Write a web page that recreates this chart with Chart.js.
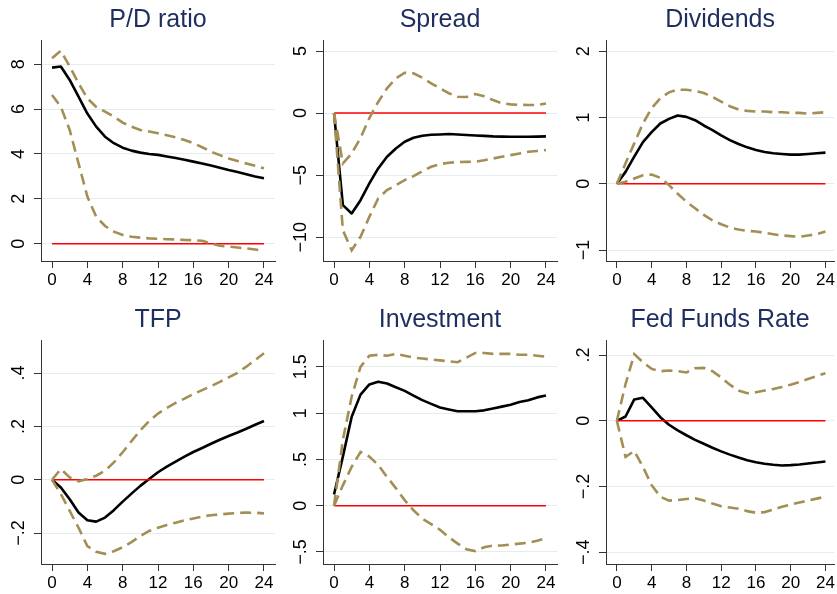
<!DOCTYPE html>
<html lang="en">
<head>
<meta charset="UTF-8">
<title>Impulse responses</title>
<script src="https://cdn.jsdelivr.net/npm/chart.js"></script>
<style>
  body { margin: 0; background: #fff; }
  .panel { position: absolute; }
</style>
</head>
<body>
<div class="panel" style="left:0;top:0"><canvas id="c0" width="280" height="297"></canvas></div>
<div class="panel" style="left:280px;top:0"><canvas id="c1" width="280" height="297"></canvas></div>
<div class="panel" style="left:560px;top:0"><canvas id="c2" width="277" height="297"></canvas></div>
<div class="panel" style="left:0;top:297px"><canvas id="c3" width="280" height="297"></canvas></div>
<div class="panel" style="left:280px;top:297px"><canvas id="c4" width="280" height="297"></canvas></div>
<div class="panel" style="left:560px;top:297px"><canvas id="c5" width="277" height="297"></canvas></div>
<script>
// horizon (quarters) and x tick marks
const periods = [0,1,2,3,4,5,6,7,8,9,10,11,12,13,14,15,16,17,18,19,20,21,22,23,24];
const xTicks = [0,4,8,12,16,20,24];

// P/D ratio
const pdIrf = [7.85,7.9,7.3,6.56,5.8,5.22,4.77,4.48,4.28,4.15,4.06,4.0,3.96,3.89,3.82,3.74,3.66,3.58,3.49,3.39,3.29,3.2,3.1,3.0,2.92];
const pdUp  = [8.27,8.6,7.9,7.15,6.48,6.1,5.89,5.67,5.4,5.22,5.07,5.0,4.92,4.83,4.74,4.62,4.48,4.3,4.1,3.95,3.8,3.69,3.58,3.47,3.36];
const pdLo  = [6.63,6.1,5.07,3.58,2.1,1.2,0.79,0.54,0.39,0.31,0.27,0.24,0.22,0.2,0.19,0.17,0.16,0.13,0.01,-0.09,-0.13,-0.17,-0.21,-0.26,-0.31];
const pdTicks = [0,2,4,6,8];
const pdLabels = ['0','2','4','6','8'];

// Spread
const spIrf = [0,-7.42,-8.09,-7.02,-5.67,-4.46,-3.52,-2.85,-2.31,-1.99,-1.83,-1.75,-1.72,-1.69,-1.72,-1.76,-1.8,-1.84,-1.88,-1.9,-1.91,-1.91,-1.91,-1.9,-1.88];
const spUp  = [0,-4.06,-3.25,-2.0,-0.4,0.9,2.0,2.8,3.25,3.2,2.85,2.4,1.99,1.6,1.32,1.3,1.53,1.35,1.05,0.8,0.7,0.67,0.65,0.65,0.78];
const spLo  = [0,-9.44,-11.05,-9.97,-8.36,-6.88,-6.21,-5.81,-5.4,-5.08,-4.68,-4.33,-4.11,-4.0,-3.95,-3.93,-3.92,-3.8,-3.66,-3.52,-3.39,-3.25,-3.12,-3.05,-2.98];
const spTicks = [-10,-5,0,5];
const spLabels = ['\u221210','\u22125','0','5'];

// Dividends
const dvIrf = [0,0.18,0.41,0.63,0.78,0.91,0.98,1.03,1.01,0.96,0.88,0.81,0.73,0.66,0.6,0.55,0.51,0.48,0.46,0.45,0.44,0.44,0.45,0.46,0.47];
const dvUp  = [0,0.31,0.61,0.91,1.14,1.29,1.38,1.42,1.42,1.4,1.37,1.31,1.24,1.17,1.12,1.1,1.09,1.09,1.08,1.08,1.07,1.07,1.06,1.07,1.08];
const dvLo  = [0,0.03,0.08,0.13,0.14,0.09,-0.02,-0.15,-0.27,-0.37,-0.47,-0.55,-0.61,-0.66,-0.69,-0.71,-0.72,-0.74,-0.76,-0.78,-0.79,-0.8,-0.78,-0.76,-0.72];
const dvTicks = [-1,0,1,2];
const dvLabels = ['\u22121','0','1','2'];

// TFP
const tfIrf = [0,-0.029,-0.073,-0.123,-0.152,-0.157,-0.142,-0.114,-0.082,-0.052,-0.023,0.003,0.028,0.049,0.068,0.087,0.104,0.119,0.135,0.15,0.164,0.177,0.191,0.206,0.22];
const tfUp  = [0,0.04,0.009,-0.006,0.003,0.015,0.034,0.065,0.103,0.145,0.185,0.22,0.248,0.269,0.288,0.304,0.321,0.336,0.351,0.367,0.384,0.401,0.424,0.449,0.474];
const tfLo  = [0,-0.054,-0.117,-0.18,-0.249,-0.27,-0.278,-0.268,-0.253,-0.234,-0.211,-0.192,-0.18,-0.17,-0.161,-0.152,-0.145,-0.138,-0.133,-0.13,-0.127,-0.125,-0.123,-0.124,-0.126];
const tfTicks = [-0.2,0,0.2,0.4];
const tfLabels = ['\u2212.2','0','.2','.4'];

// Investment
const ivIrf = [0.12,0.53,0.96,1.2,1.31,1.34,1.32,1.28,1.24,1.19,1.14,1.1,1.06,1.04,1.02,1.02,1.02,1.03,1.05,1.07,1.09,1.12,1.14,1.17,1.19];
const ivUp  = [0,0.71,1.18,1.5,1.62,1.63,1.62,1.64,1.62,1.6,1.59,1.58,1.57,1.56,1.55,1.6,1.65,1.65,1.64,1.64,1.64,1.63,1.63,1.62,1.61];
const ivLo  = [0,0.22,0.42,0.58,0.53,0.44,0.31,0.19,0.06,-0.05,-0.14,-0.2,-0.26,-0.34,-0.41,-0.47,-0.49,-0.45,-0.43,-0.43,-0.42,-0.41,-0.4,-0.38,-0.35];
const ivTicks = [-0.5,0,0.5,1,1.5];
const ivLabels = ['\u2212.5','0','.5','1','1.5'];

// Fed Funds Rate
const ffIrf = [0,0.013,0.065,0.07,0.041,0.011,-0.012,-0.029,-0.044,-0.058,-0.07,-0.082,-0.093,-0.103,-0.112,-0.12,-0.126,-0.131,-0.134,-0.136,-0.135,-0.133,-0.13,-0.127,-0.124];
const ffUp  = [0,0.112,0.203,0.178,0.158,0.151,0.153,0.151,0.147,0.16,0.161,0.151,0.132,0.11,0.092,0.084,0.087,0.092,0.097,0.103,0.11,0.118,0.127,0.136,0.145];
const ffLo  = [0,-0.11,-0.092,-0.14,-0.196,-0.231,-0.243,-0.241,-0.238,-0.236,-0.243,-0.252,-0.26,-0.264,-0.268,-0.275,-0.28,-0.278,-0.27,-0.262,-0.255,-0.249,-0.243,-0.237,-0.231];
const ffTicks = [-0.4,-0.2,0,0.2];
const ffLabels = ['\u2212.4','\u2212.2','0','.2'];

const FONT = '"Liberation Sans", Arial, Helvetica, sans-serif';
const BAND = '#a38f55';
const AXIS = '#333333';
Chart.defaults.font.family = FONT;

// Stata-style y labels, rotated to read bottom to top
const rotatedYLabels = {
  id: 'rotatedYLabels',
  afterDraw(chart, args, opts) {
    const ctx = chart.ctx, y = chart.scales.y;
    ctx.save();
    ctx.font = '18px ' + FONT;
    ctx.fillStyle = '#000';
    ctx.textAlign = 'center';
    ctx.textBaseline = 'middle';
    opts.values.forEach((v, i) => {
      ctx.save();
      ctx.translate(chart.chartArea.left - 22, y.getPixelForValue(v));
      ctx.rotate(-Math.PI / 2);
      ctx.fillText(opts.labels[i], 0, 0);
      ctx.restore();
    });
    ctx.restore();
  }
};

function toPts(vals) {
  return vals.map((v, i) => ({ x: periods[i], y: v }));
}

function makePanel(id, title, irf, upper, lower, yTicks, yLabels, yMin, yMax, xMax, box) {
  const zero = [{ x: periods[0], y: 0 }, { x: periods[periods.length - 1], y: 0 }];
  const dashed = { borderColor: BAND, borderWidth: 2.6, borderDash: [11, 6], borderCapStyle: 'butt' };
  new Chart(document.getElementById(id), {
    type: 'line',
    data: {
      datasets: [
        Object.assign({ data: toPts(upper) }, dashed),
        Object.assign({ data: toPts(lower) }, dashed),
        { data: zero, borderColor: '#ff0000', borderWidth: 1.5 },
        { data: toPts(irf), borderColor: '#000000', borderWidth: 2.6, borderJoinStyle: 'round' }
      ]
    },
    options: {
      responsive: false,
      animation: false,
      devicePixelRatio: 1,
      elements: { point: { radius: 0 }, line: { tension: 0, fill: false } },
      layout: { padding: { top: box.padTop, right: box.padRight, left: 0, bottom: 0 } },
      plugins: {
        legend: { display: false },
        tooltip: { enabled: false },
        title: {
          display: true, text: title, color: '#1e2e5e', fullSize: false,
          font: { size: 25, weight: 'normal' }, padding: { top: 5, bottom: 5 }
        },
        rotatedYLabels: { values: yTicks, labels: yLabels }
      },
      scales: {
        x: {
          type: 'linear', min: -1.25, max: xMax,
          afterBuildTicks: s => { s.ticks = xTicks.map(v => ({ value: v })); },
          afterFit: s => { s.height = box.xAxisH; },
          ticks: { color: '#000', font: { size: 17 }, padding: 2, maxRotation: 0, autoSkip: false, callback: v => String(v) },
          grid: { drawOnChartArea: false, tickLength: 7, tickColor: AXIS },
          border: { color: AXIS, width: 1 }
        },
        y: {
          type: 'linear', min: yMin, max: yMax,
          afterBuildTicks: s => { s.ticks = yTicks.map(v => ({ value: v })); },
          afterFit: s => { s.width = box.axisW; },
          ticks: { display: false },
          grid: { color: '#e3ecef', lineWidth: 1, tickLength: 7, tickColor: AXIS },
          border: { color: AXIS, width: 1 }
        }
      }
    },
    plugins: [rotatedYLabels]
  });
}

makePanel('c0', 'P/D ratio', pdIrf, pdUp, pdLo, pdTicks, pdLabels, -0.77, 9.08, 25.25, { axisW: 41, padRight: 5, padTop: 0, xAxisH: 36 });
makePanel('c1', 'Spread', spIrf, spUp, spLo, spTicks, spLabels, -11.92, 5.89, 25.25, { axisW: 43, padRight: 3, padTop: 0, xAxisH: 36 });
makePanel('c2', 'Dividends', dvIrf, dvUp, dvLo, dvTicks, dvLabels, -1.165, 2.17, 25.0, { axisW: 46, padRight: 0, padTop: 0, xAxisH: 36 });
makePanel('c3', 'TFP', tfIrf, tfUp, tfLo, tfTicks, tfLabels, -0.316, 0.524, 25.25, { axisW: 41, padRight: 5, padTop: 3, xAxisH: 30 });
makePanel('c4', 'Investment', ivIrf, ivUp, ivLo, ivTicks, ivLabels, -0.63, 1.79, 25.25, { axisW: 43, padRight: 3, padTop: 3, xAxisH: 30 });
makePanel('c5', 'Fed Funds Rate', ffIrf, ffUp, ffLo, ffTicks, ffLabels, -0.436, 0.246, 25.0, { axisW: 46, padRight: 0, padTop: 3, xAxisH: 30 });
</script>
</body>
</html>
